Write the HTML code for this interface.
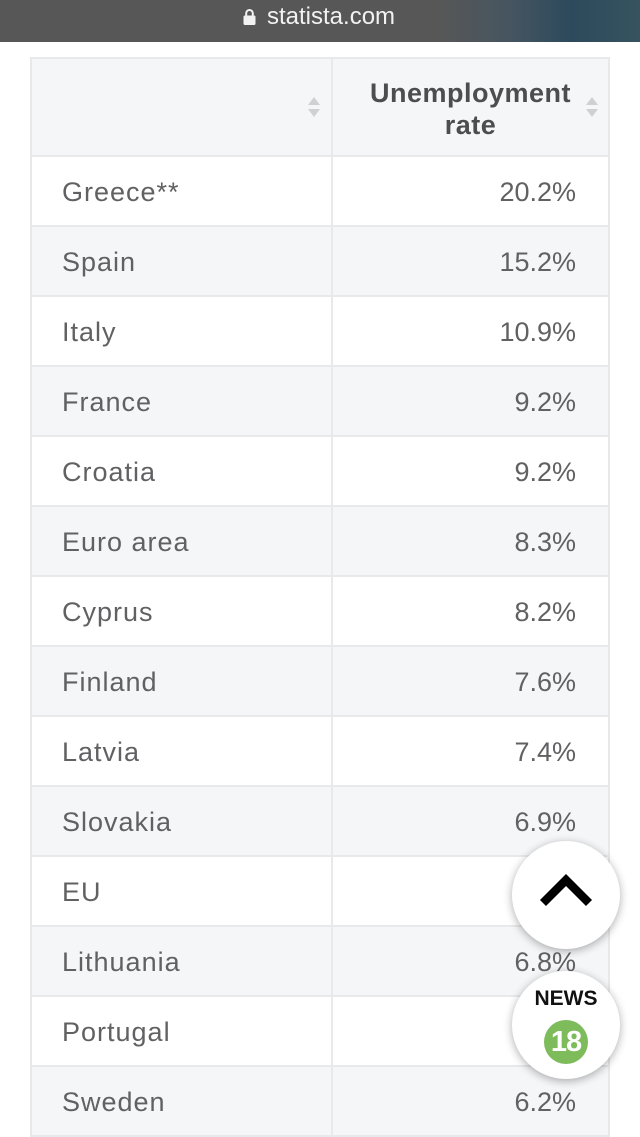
<!DOCTYPE html>
<html>
<head>
<meta charset="utf-8">
<style>
  html,body{margin:0;padding:0;}
  body{width:640px;height:1099px;overflow:hidden;position:relative;background:#fff;font-family:"Liberation Sans",sans-serif;}
  .topbar{position:absolute;left:0;top:0;width:640px;height:42px;
    background:linear-gradient(to right,#575757 0px,#575757 440px,#465560 510px,#2d4a5c 570px,#36535f 640px);}
  .url{position:absolute;left:267px;top:2px;font-size:24px;color:#f2f2f2;line-height:30px;}
  .lock{position:absolute;left:243px;top:8px;}
  .tbl{position:absolute;left:30px;top:57px;width:576px;border-left:2px solid #e8e9eb;border-right:2px solid #e8e9eb;border-top:2px solid #e8e9eb;}
  .hdr{position:relative;height:96px;background:#f5f6f8;border-bottom:2px solid #e8e9eb;}
  .row{position:relative;height:68px;border-bottom:2px solid #e8e9eb;background:#fff;}
  .row.g{background:#f5f6f8;}
  .div{position:absolute;left:299px;top:0;width:2px;height:100%;background:#e8e9eb;}
  .name{position:absolute;left:30px;top:1px;line-height:68px;font-size:27px;color:#616163;letter-spacing:1px;}
  .val{position:absolute;right:32px;top:1px;line-height:68px;font-size:27px;color:#616163;}
  .htxt{position:absolute;left:301px;width:275px;top:18px;text-align:center;font-weight:bold;font-size:27px;line-height:32px;color:#4d4d4f;letter-spacing:0.5px;}
  .sort{position:absolute;width:14px;height:24px;}
  .btn{position:absolute;width:108px;height:108px;border-radius:50%;background:#fff;box-shadow:0 2px 9px rgba(0,0,0,0.32);}
</style>
</head>
<body>
<div class="topbar">
  <svg class="lock" width="13" height="17" viewBox="0 0 13 17">
    <path d="M3.2 8 V5.3 A3.3 3.3 0 0 1 9.8 5.3 V8" fill="none" stroke="#f2f2f2" stroke-width="2"/>
    <rect x="0.5" y="7.5" width="12" height="9.5" rx="1.5" fill="#f2f2f2"/>
  </svg>
  <div class="url">statista.com</div>
</div>

<div class="tbl">
  <div class="hdr">
    <div class="div"></div>
    <svg class="sort" style="left:275px;top:36px" viewBox="0 0 14 24">
      <polygon points="1,10 7,2 13,10" fill="#cfd0d2"/>
      <polygon points="1,14 7,22 13,14" fill="#cfd0d2"/>
    </svg>
    <div class="htxt">Unemployment<br>rate</div>
    <svg class="sort" style="left:553px;top:36px" viewBox="0 0 14 24">
      <polygon points="1,10 7,2 13,10" fill="#cfd0d2"/>
      <polygon points="1,14 7,22 13,14" fill="#cfd0d2"/>
    </svg>
  </div>
  <div class="row"><div class="div"></div><div class="name">Greece**</div><div class="val">20.2%</div></div>
  <div class="row g"><div class="div"></div><div class="name">Spain</div><div class="val">15.2%</div></div>
  <div class="row"><div class="div"></div><div class="name">Italy</div><div class="val">10.9%</div></div>
  <div class="row g"><div class="div"></div><div class="name">France</div><div class="val">9.2%</div></div>
  <div class="row"><div class="div"></div><div class="name">Croatia</div><div class="val">9.2%</div></div>
  <div class="row g"><div class="div"></div><div class="name">Euro area</div><div class="val">8.3%</div></div>
  <div class="row"><div class="div"></div><div class="name">Cyprus</div><div class="val">8.2%</div></div>
  <div class="row g"><div class="div"></div><div class="name">Finland</div><div class="val">7.6%</div></div>
  <div class="row"><div class="div"></div><div class="name">Latvia</div><div class="val">7.4%</div></div>
  <div class="row g"><div class="div"></div><div class="name">Slovakia</div><div class="val">6.9%</div></div>
  <div class="row"><div class="div"></div><div class="name">EU</div><div class="val">6.9%</div></div>
  <div class="row g"><div class="div"></div><div class="name">Lithuania</div><div class="val">6.8%</div></div>
  <div class="row"><div class="div"></div><div class="name">Portugal</div><div class="val">6.5%</div></div>
  <div class="row g"><div class="div"></div><div class="name">Sweden</div><div class="val">6.2%</div></div>
</div>

<div class="btn" style="left:512px;top:841px;">
  <svg width="108" height="108" viewBox="0 0 108 108" style="position:absolute;left:0;top:0">
    <polyline points="34,59 54,39 74,59" fill="none" stroke="#000" stroke-width="8.5" stroke-linecap="square" stroke-linejoin="miter"/>
  </svg>
</div>
<div class="btn" style="left:512px;top:971px;">
  <div style="position:absolute;left:0;width:108px;top:16px;text-align:center;font-weight:bold;font-size:21px;line-height:24px;color:#111;">NEWS</div>
  <div style="position:absolute;left:32px;top:49px;width:44px;height:44px;border-radius:50%;background:#7dbb5b;color:#fff;font-weight:bold;font-size:29px;line-height:44px;text-align:center;letter-spacing:-1px;">18</div>
</div>
</body>
</html>
